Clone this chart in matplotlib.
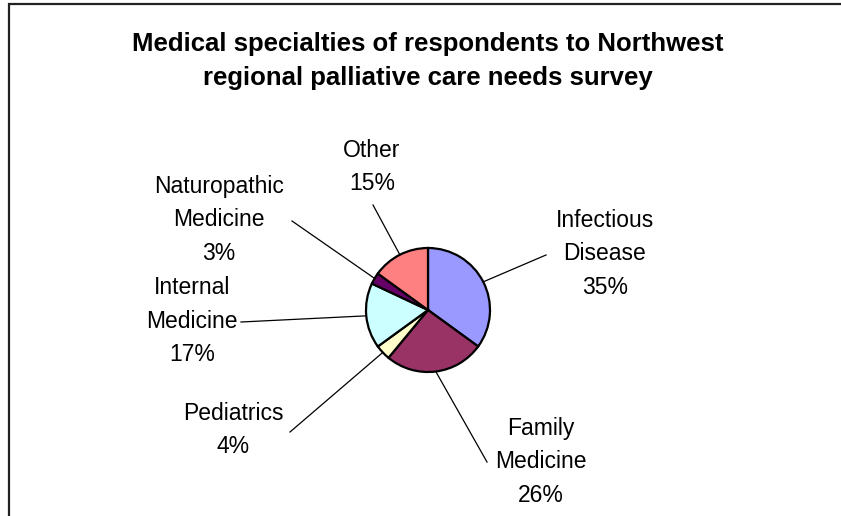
import numpy as np
import matplotlib
matplotlib.use('Agg')
from matplotlib import pyplot as plt

specialties = ['Infectious\nDisease', 'Family\nMedicine', 'Pediatrics',
               'Internal\nMedicine', 'Naturopathic\nMedicine', 'Other']
percents = [35, 26, 4, 17, 3, 15]
colors = ['#9999FF', '#993366', '#FFFFCC', '#CCFFFF', '#660066', '#FF8080']

# label placement in pixel space (x, y from top), and where each leader line stops
label_pos = [(605, 254), (541, 462), (233, 430), (192, 321), (219, 220), (372, 167)]
leader_end = [(546, 255), (487, 462), (290, 432), (241, 322), (292, 221), (373, 205)]

W, H = 841, 516
fig = plt.figure(figsize=(W / 100, H / 100), dpi=100)
ax = fig.add_axes([0, 0, 1, 1])

plt.rcParams['font.family'] = ['Liberation Sans', 'DejaVu Sans']

cx, cy, r = 428, H - 310, 62
wedges, _ = ax.pie(percents, colors=colors, startangle=90, counterclock=False,
                   center=(cx, cy), radius=r, frame=True,
                   wedgeprops=dict(edgecolor='black', linewidth=1.6))
ax.set_xlim(0, W)
ax.set_ylim(0, H)
ax.axis('off')

for w, name, pct, (lx, ly), (ex, ey) in zip(wedges, specialties, percents, label_pos, leader_end):
    mid = np.deg2rad((w.theta1 + w.theta2) / 2)
    px = cx + r * np.cos(mid)
    py = cy + r * np.sin(mid)
    ax.plot([px, ex], [py, H - ey], color='black', linewidth=0.9)
    ax.text(lx, H - ly, f'{name}\n{pct}%', ha='center', va='center',
            fontsize=16.5, linespacing=1.6)

ax.text(428, H - 61, 'Medical specialties of respondents to Northwest\n'
        'regional palliative care needs survey', ha='center', va='center',
        fontsize=18.5, fontweight='bold', linespacing=1.5)

# chart area border: only the top and left edges fall inside the image
ax.plot([9, 9, W + 10], [-10, H - 4, H - 4], color='#222222', linewidth=1.6,
        solid_joinstyle='miter')

fig.savefig('out.png', dpi=100)
